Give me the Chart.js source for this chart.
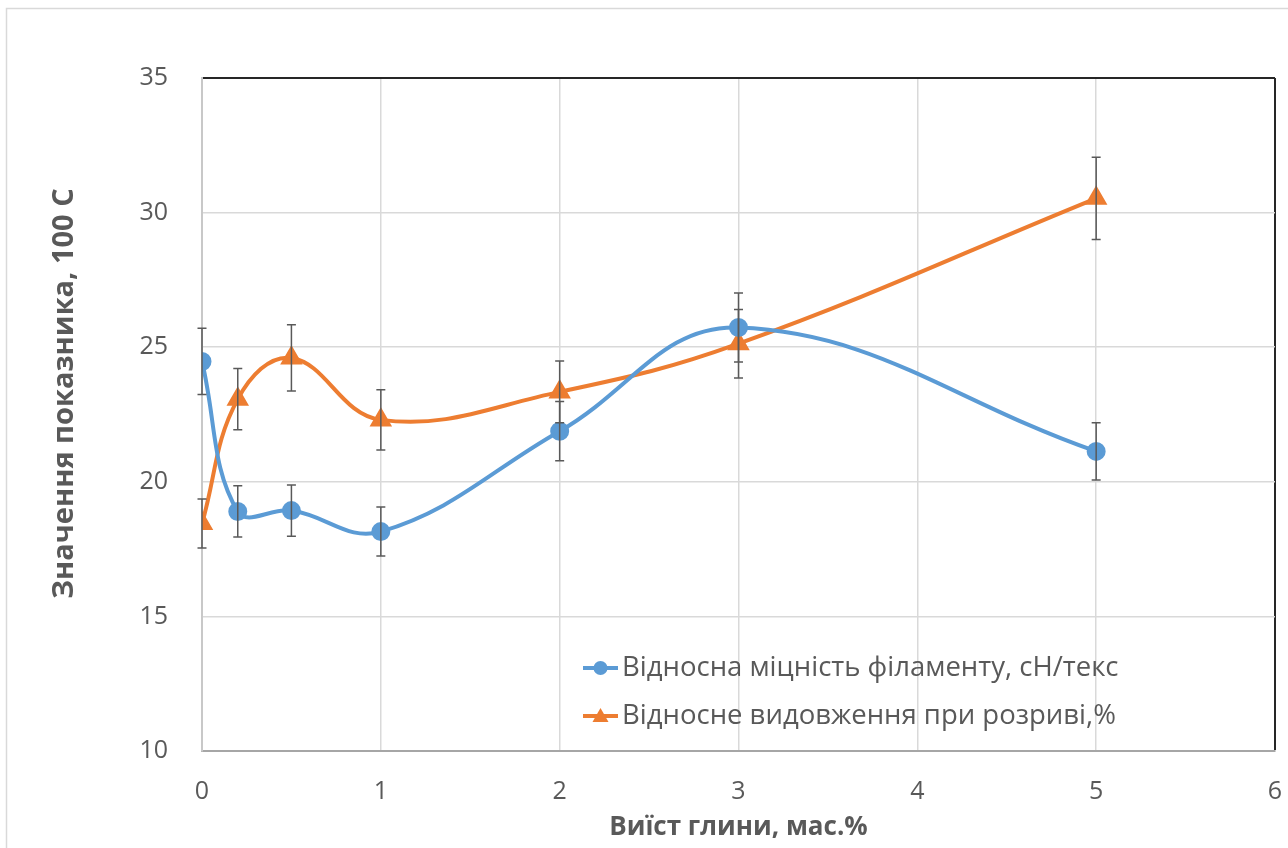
<!DOCTYPE html>
<html>
<head>
<meta charset="utf-8">
<script src="https://cdn.jsdelivr.net/npm/chart.js@4"></script>
<style>
  html, body { margin: 0; padding: 0; background: #fff; }
  #wrap { width: 1288px; height: 848px; }
</style>
</head>
<body>
<div id="wrap"><canvas id="myChart" width="1288" height="848"></canvas></div>
<script>
// data
var xValues = [0, 0.2, 0.5, 1, 2, 3, 5];
var strength = [24.47, 18.9, 18.93, 18.15, 21.88, 25.73, 21.13];
var strengthErr = [1.23, 0.95, 0.95, 0.91, 1.1, 1.28, 1.06];
var elongation = [18.45, 23.07, 24.6, 22.3, 23.34, 25.13, 30.53];
var elongationErr = [0.91, 1.14, 1.23, 1.12, 1.15, 1.27, 1.53];
var seriesNames = ["Відносна міцність філаменту, сН/текс", "Відносне видовження при розриві,%"];
var xTitle = "Виїст глини, мас.%";
var yTitle = "Значення показника, 100 С";

var blue = '#5b9bd5';
var orange = '#ed7d31';
var textGray = '#595959';
var fontFam = "'Open Sans', 'Noto Sans', sans-serif";

function toPoints(xs, ys) {
  return xs.map(function (x, i) { return { x: x, y: ys[i] }; });
}

//white background and outer frame
var frame = {
  id: 'frame',
  beforeDraw: function (chart) {
    var c = chart.ctx;
    c.save();
    c.fillStyle = '#fff';
    c.fillRect(0, 0, chart.width, chart.height);
    c.strokeStyle = '#d9d9d9';
    c.lineWidth = 1.5;
    c.strokeRect(6.5, 8.5, 1400, 1000);
    c.restore();
  }
};

//error bars on top of the lines
var errorBars = {
  id: 'errorBars',
  afterDatasetsDraw: function (chart) {
    var c = chart.ctx;
    var yScale = chart.scales.y;
    c.save();
    c.strokeStyle = '#595959';
    c.lineWidth = 1.5;
    chart.data.datasets.forEach(function (ds, di) {
      var meta = chart.getDatasetMeta(di);
      meta.data.forEach(function (pt, i) {
        var v = ds.data[i].y;
        var e = ds.errors[i];
        var top = yScale.getPixelForValue(v + e);
        var bot = yScale.getPixelForValue(v - e);
        c.beginPath();
        c.moveTo(pt.x, top); c.lineTo(pt.x, bot);
        c.moveTo(pt.x - 4.5, top); c.lineTo(pt.x + 4.5, top);
        c.moveTo(pt.x - 4.5, bot); c.lineTo(pt.x + 4.5, bot);
        c.stroke();
      });
    });
    c.restore();
  }
};

//legend inside the plot, lower right, plus y title
var innerLegend = {
  id: 'innerLegend',
  afterDraw: function (chart) {
    var c = chart.ctx;
    var area = chart.chartArea;
    c.save();
    var x0 = area.left + 381;
    var y0 = area.top + 590;
    chart.data.datasets.forEach(function (ds, i) {
      var y = y0 + i * 48;
      c.strokeStyle = ds.borderColor;
      c.lineWidth = 4;
      c.beginPath();
      c.moveTo(x0, y); c.lineTo(x0 + 35, y);
      c.stroke();
      c.fillStyle = ds.borderColor;
      c.beginPath();
      if (ds.pointStyle === 'triangle') {
        c.moveTo(x0 + 17.5, y - 8);
        c.lineTo(x0 + 25.5, y + 6);
        c.lineTo(x0 + 9.5, y + 6);
        c.closePath();
      } else {
        c.arc(x0 + 17.5, y, 7, 0, Math.PI * 2);
      }
      c.fill();
      c.fillStyle = textGray;
      c.font = '27.5px ' + fontFam;
      c.textBaseline = 'middle';
      c.fillText(ds.label, x0 + 39, y);
    });

    c.translate(65, (area.top + area.bottom) / 2 - 21);
    c.rotate(-Math.PI / 2);
    c.font = 'bold 29px ' + fontFam;
    c.textAlign = 'center';
    c.textBaseline = 'middle';
    c.fillText(yTitle, 0, 0);
    c.restore();
  }
};

function noPad(s) {
  s.paddingLeft = 0;
  s.paddingRight = 0;
  s.paddingTop = 0;
  s.paddingBottom = 0;
}

var ctx = document.getElementById('myChart').getContext('2d');

var myChart = new Chart(ctx, {
  type: 'line',
  data: {
    datasets: [{
      label: seriesNames[0],
      data: toPoints(xValues, strength),
      errors: strengthErr,
      borderColor: blue,
      backgroundColor: blue,
      borderWidth: 4,
      pointStyle: 'circle',
      pointRadius: 7.5,
      pointHoverRadius: 7.5,
      tension: 0.4,
      fill: false
    }, {
      label: seriesNames[1],
      data: toPoints(xValues, elongation),
      errors: elongationErr,
      borderColor: orange,
      backgroundColor: orange,
      borderWidth: 4,
      pointStyle: 'triangle',
      pointRadius: 9,
      pointHoverRadius: 9,
      tension: 0.4,
      fill: false
    }]
  },
  options: {
    responsive: false,
    animation: false,
    layout: { padding: { top: 78, right: 10, left: 0, bottom: 0 } },
    plugins: {
      legend: { display: false },
      tooltip: { enabled: false }
    },
    scales: {
      x: {
        type: 'linear',
        min: 0,
        max: 6,
        afterFit: function (s) {
          s.height = 97;
          noPad(s);
        },
        ticks: {
          stepSize: 1,
          padding: 26,
          color: textGray,
          font: { family: fontFam, size: 25 }
        },
        grid: {
          drawTicks: false,
          color: function (c) { return c.tick && c.tick.value === 6 ? '#262626' : '#d9d9d9'; },
          lineWidth: function (c) { return c.tick && c.tick.value === 6 ? 2 : 1.5; }
        },
        border: { color: '#a6a6a6', width: 2 },
        title: {
          display: true,
          text: xTitle,
          color: textGray,
          font: { family: fontFam, size: 26, weight: 'bold' },
          padding: { top: 0, bottom: 5 }
        }
      },
      y: {
        min: 10,
        max: 35,
        afterFit: function (s) {
          s.width = 202;
          noPad(s);
        },
        ticks: {
          stepSize: 5,
          padding: 34,
          color: textGray,
          font: { family: fontFam, size: 25 }
        },
        grid: {
          drawTicks: false,
          color: function (c) { return c.tick && c.tick.value === 35 ? '#262626' : '#d9d9d9'; },
          lineWidth: function (c) { return c.tick && c.tick.value === 35 ? 2 : 1.5; }
        },
        border: { color: '#c8c8c8', width: 2 }
      }
    }
  },
  plugins: [frame, errorBars, innerLegend]
});
</script>
</body>
</html>
